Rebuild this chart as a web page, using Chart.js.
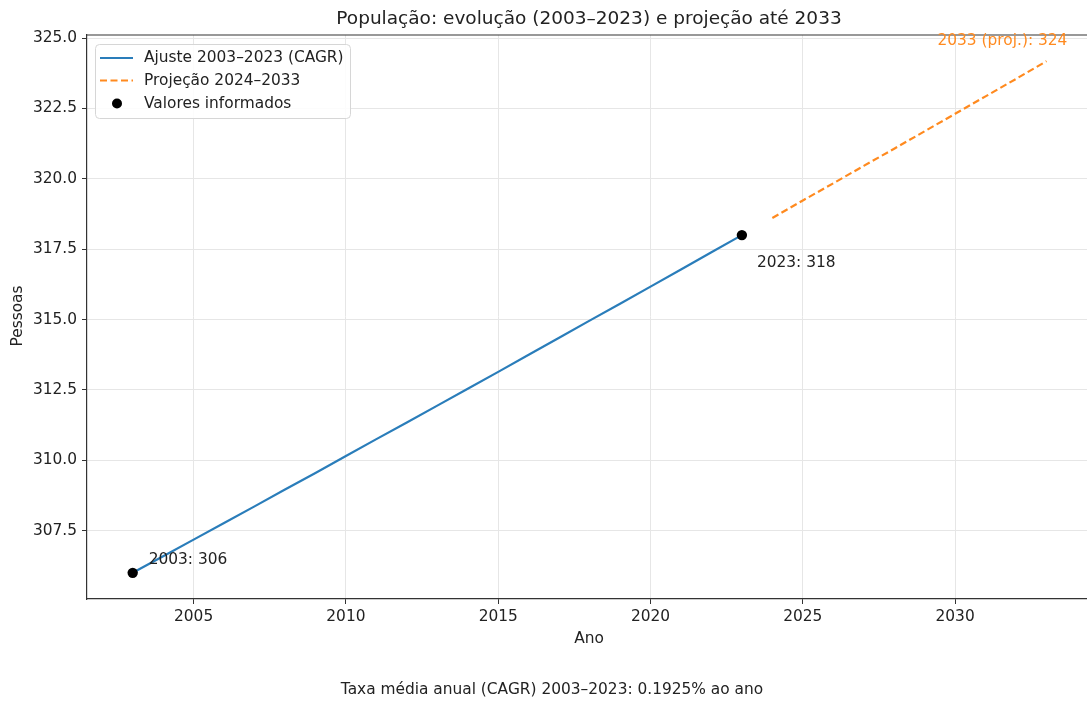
<!DOCTYPE html>
<html lang="pt">
<head>
    <meta charset="UTF-8">
    <title>População: evolução e projeção</title>
    <script src="https://cdn.jsdelivr.net/npm/chart.js@4.4.0/dist/chart.umd.min.js"></script>
    <style>
        body { margin: 0; background: #ffffff; }
        canvas { display: block; }
    </style>
</head>
<body>
    <canvas id="popChart" width="1087" height="704"></canvas>

    <script>
        // Ajuste CAGR 2003-2023
        const fitYears = [2003, 2004, 2005, 2006, 2007, 2008, 2009, 2010, 2011, 2012, 2013,
                          2014, 2015, 2016, 2017, 2018, 2019, 2020, 2021, 2022, 2023];
        const fitValues = [306.00, 306.59, 307.18, 307.77, 308.36, 308.96, 309.55, 310.15, 310.75, 311.34, 311.94,
                           312.54, 313.14, 313.75, 314.35, 314.96, 315.56, 316.17, 316.78, 317.39, 318.00];

        // Projeção 2024-2033
        const projYears = [2024, 2025, 2026, 2027, 2028, 2029, 2030, 2031, 2032, 2033];
        const projValues = [318.61, 319.23, 319.84, 320.46, 321.07, 321.69, 322.31, 322.93, 323.55, 324.18];

        // Valores informados
        const obsYears = [2003, 2023];
        const obsValues = [306, 318];

        const xTicks = [2005, 2010, 2015, 2020, 2025, 2030];
        const yTicks = [307.5, 310.0, 312.5, 315.0, 317.5, 320.0, 322.5, 325.0];

        const chartTitle = 'População: evolução (2003–2023) e projeção até 2033';
        const xTitle = 'Ano';
        const yTitle = 'Pessoas';
        const footerText = 'Taxa média anual (CAGR) 2003–2023: 0.1925% ao ano';
        const legendLabels = ['Ajuste 2003–2023 (CAGR)', 'Projeção 2024–2033', 'Valores informados'];

        const blue = '#2a7dba';
        const orange = '#ff8a1f';
        const textColor = '#222222';
        const fontFamily = '"DejaVu Sans", sans-serif';
        const baseSize = 15.4;

        const toPoints = (xs, ys) => xs.map((x, i) => ({ x: x, y: ys[i] }));

        const textPlugin = {
            id: 'textPlugin',
            afterDraw(chart) {
                const ctx = chart.ctx;
                const area = chart.chartArea;
                const xs = chart.scales.x;
                const ys = chart.scales.y;
                ctx.save();

                // top spine
                ctx.strokeStyle = '#333333';
                ctx.lineWidth = 1.2;
                ctx.beginPath();
                ctx.moveTo(area.left, area.top);
                ctx.lineTo(area.right, area.top);
                ctx.stroke();

                // title
                ctx.fillStyle = textColor;
                ctx.textAlign = 'center';
                ctx.textBaseline = 'middle';
                ctx.font = '18.5px ' + fontFamily;
                ctx.fillText(chartTitle, 589, 19);

                // axis titles
                ctx.font = baseSize + 'px ' + fontFamily;
                ctx.fillText(xTitle, 589, 639);
                ctx.save();
                ctx.translate(18, 316);
                ctx.rotate(-Math.PI / 2);
                ctx.fillText(yTitle, 0, 0);
                ctx.restore();

                // footer
                ctx.fillText(footerText, 552, 690);

                // point annotations
                ctx.textAlign = 'left';
                ctx.fillText(obsYears[0] + ': ' + obsValues[0],
                    xs.getPixelForValue(obsYears[0]) + 16, ys.getPixelForValue(obsValues[0]) - 13);
                ctx.fillText(obsYears[1] + ': ' + obsValues[1],
                    xs.getPixelForValue(obsYears[1]) + 15, ys.getPixelForValue(obsValues[1]) + 28);
                const lastY = projYears[projYears.length - 1];
                const lastV = projValues[projValues.length - 1];
                ctx.fillStyle = orange;
                ctx.fillText(lastY + ' (proj.): ' + Math.round(lastV),
                    xs.getPixelForValue(lastY) - 109, ys.getPixelForValue(lastV) - 20.5);

                // legend
                const lx = 95.5, ly = 44.5, lw = 255, lh = 74, r = 4;
                ctx.beginPath();
                ctx.moveTo(lx + r, ly);
                ctx.arcTo(lx + lw, ly, lx + lw, ly + lh, r);
                ctx.arcTo(lx + lw, ly + lh, lx, ly + lh, r);
                ctx.arcTo(lx, ly + lh, lx, ly, r);
                ctx.arcTo(lx, ly, lx + lw, ly, r);
                ctx.closePath();
                ctx.fillStyle = 'rgba(255,255,255,0.85)';
                ctx.fill();
                ctx.strokeStyle = '#d6d6d6';
                ctx.lineWidth = 1;
                ctx.stroke();

                const rows = [58, 80.5, 103.5];
                ctx.lineWidth = 2.2;
                ctx.strokeStyle = blue;
                ctx.beginPath();
                ctx.moveTo(100, rows[0]);
                ctx.lineTo(133, rows[0]);
                ctx.stroke();
                ctx.strokeStyle = orange;
                ctx.setLineDash([7, 3.5]);
                ctx.beginPath();
                ctx.moveTo(100, rows[1]);
                ctx.lineTo(133, rows[1]);
                ctx.stroke();
                ctx.setLineDash([]);
                ctx.fillStyle = '#000000';
                ctx.beginPath();
                ctx.arc(117, rows[2], 5, 0, Math.PI * 2);
                ctx.fill();

                ctx.fillStyle = textColor;
                ctx.textAlign = 'left';
                legendLabels.forEach((label, i) => ctx.fillText(label, 144, rows[i]));

                ctx.restore();
            }
        };

        const config = {
            type: 'line',
            data: {
                datasets: [
                    {
                        label: legendLabels[0],
                        data: toPoints(fitYears, fitValues),
                        borderColor: blue,
                        borderWidth: 2.2,
                        pointRadius: 0,
                        fill: false,
                        tension: 0,
                        order: 2
                    },
                    {
                        label: legendLabels[1],
                        data: toPoints(projYears, projValues),
                        borderColor: orange,
                        borderWidth: 2.2,
                        borderDash: [7, 3.5],
                        pointRadius: 0,
                        fill: false,
                        tension: 0,
                        order: 2
                    },
                    {
                        label: legendLabels[2],
                        data: toPoints(obsYears, obsValues),
                        showLine: false,
                        pointRadius: 5.2,
                        pointBackgroundColor: '#000000',
                        pointBorderColor: '#000000',
                        pointBorderWidth: 0,
                        order: 1
                    }
                ]
            },
            options: {
                responsive: false,
                animation: false,
                events: [],
                layout: { autoPadding: false, padding: { top: 35, left: 0, right: 0, bottom: 0 } },
                scales: {
                    x: {
                        type: 'linear',
                        min: 2001.5,
                        max: 2034.33,
                        afterFit: (scale) => {
                            scale.height = 105;
                            scale.paddingRight = 0;
                            scale.paddingLeft = 0;
                        },
                        afterBuildTicks: (scale) => { scale.ticks = xTicks.map(v => ({ value: v })); },
                        ticks: {
                            color: textColor,
                            font: { family: fontFamily, size: baseSize },
                            padding: 4,
                            maxRotation: 0,
                            callback: (v) => String(v)
                        },
                        grid: { color: '#e6e6e6', lineWidth: 1, tickColor: '#333333', tickLength: 5 },
                        border: { color: '#333333', width: 1.2 }
                    },
                    y: {
                        type: 'linear',
                        min: 305.07,
                        max: 325.11,
                        afterFit: (scale) => {
                            scale.width = 87;
                            scale.paddingTop = 0;
                            scale.paddingBottom = 0;
                        },
                        afterBuildTicks: (scale) => { scale.ticks = yTicks.map(v => ({ value: v })); },
                        ticks: {
                            color: textColor,
                            font: { family: fontFamily, size: baseSize },
                            padding: 5,
                            callback: (v) => Number(v).toFixed(1)
                        },
                        grid: { color: '#e6e6e6', lineWidth: 1, tickColor: '#333333', tickLength: 5 },
                        border: { color: '#333333', width: 1.2 }
                    }
                },
                plugins: {
                    legend: { display: false },
                    title: { display: false },
                    tooltip: { enabled: false }
                }
            },
            plugins: [textPlugin]
        };

        const ctx = document.getElementById('popChart').getContext('2d');
        const chart = new Chart(ctx, config);
    </script>
</body>
</html>
